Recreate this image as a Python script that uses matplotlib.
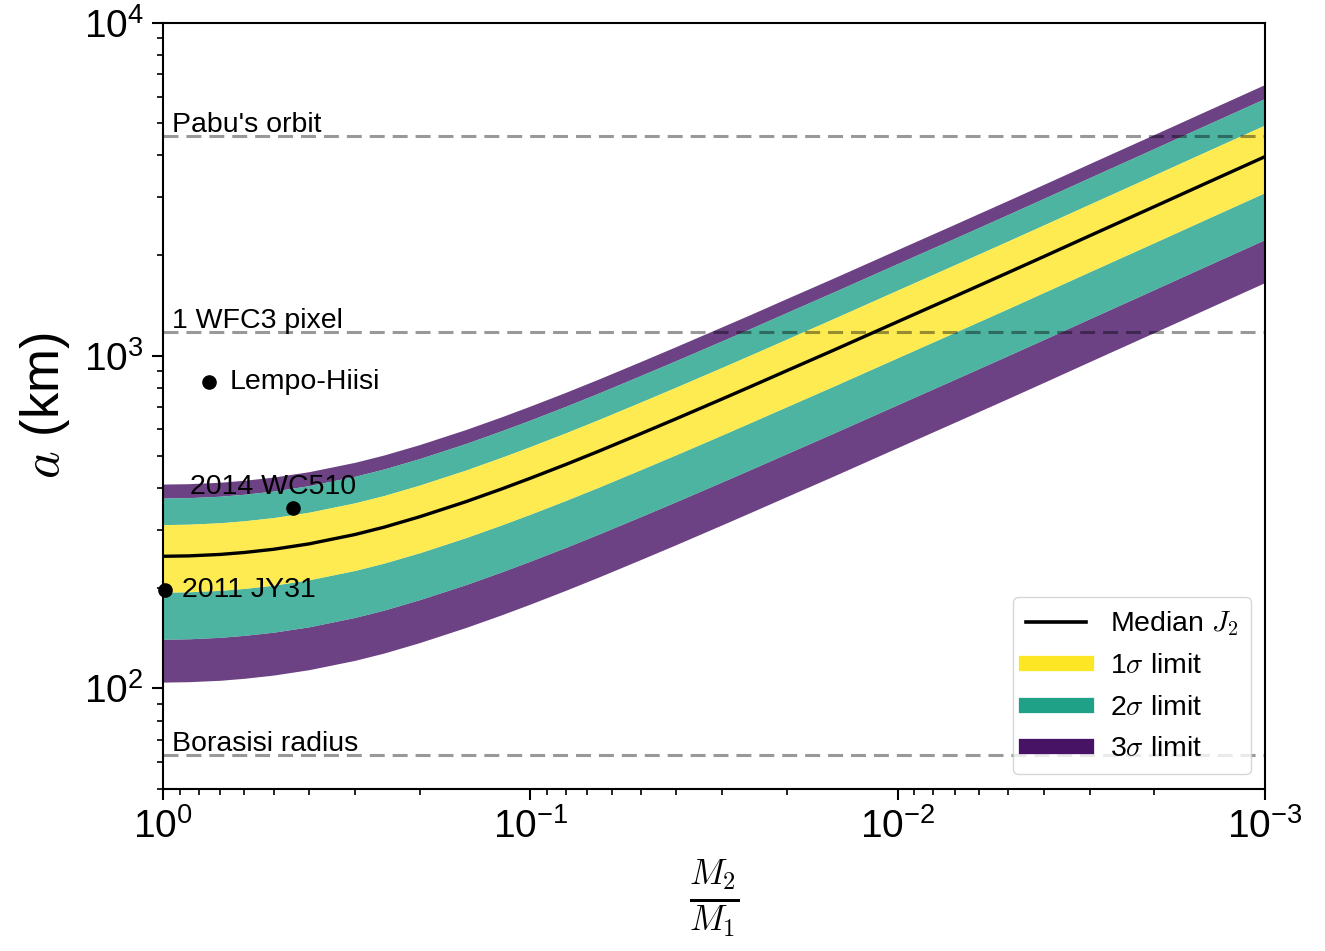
import matplotlib
matplotlib.use("Agg")
import matplotlib.pyplot as plt
from matplotlib.lines import Line2D
import numpy as np

plt.rcParams['font.family'] = ['Liberation Sans', 'DejaVu Sans']
plt.rcParams['mathtext.fontset'] = 'cm'
plt.rcParams['axes.unicode_minus'] = False

# ---- data ----
mass_ratio = [1, 0.85, 0.7, 0.6, 0.5, 0.4, 0.3, 0.25, 0.2, 0.15, 0.12, 0.1, 0.08,
              0.065, 0.05, 0.04, 0.03, 0.025, 0.02, 0.015, 0.01, 0.007, 0.005,
              0.004, 0.003, 0.002, 0.0015, 0.001]
median_a = [249.5, 250.2, 252.7, 256.2, 261.9, 271.9, 290.1, 305.2, 328.0, 363.8,
            397.1, 428.1, 471.0, 516.6, 582.8, 646.7, 741.3, 809.1, 901.6, 1036,
            1264, 1505, 1776, 1984, 2291, 2803, 3236, 3960]
upper_3sig = [411.2, 412.3, 416.4, 422.2, 431.6, 448.1, 478.1, 503.0, 540.5, 599.5,
              654.4, 705.5, 776.2, 851.4, 960.5, 1066, 1222, 1333, 1486, 1707,
              2083, 2480, 2927, 3270, 3776, 4619, 5333, 6526]
upper_2sig = [373.3, 374.3, 378.0, 383.3, 391.8, 406.8, 434.0, 456.6, 490.7, 544.2,
              594.1, 640.4, 704.6, 772.8, 871.9, 967.5, 1109, 1210, 1349, 1550,
              1891, 2251, 2657, 2968, 3427, 4193, 4841, 5924]
upper_1sig = [310.6, 311.5, 314.6, 319.0, 326.1, 338.5, 361.2, 380.0, 408.4, 452.9,
              494.4, 533.0, 586.4, 643.2, 725.6, 805.1, 922.9, 1007, 1122, 1290,
              1574, 1874, 2211, 2470, 2852, 3490, 4029, 4930]
lower_1sig = [194.6, 195.2, 197.1, 199.8, 204.3, 212.1, 226.3, 238.1, 255.8, 283.8,
              309.7, 333.9, 367.4, 402.9, 454.6, 504.4, 578.2, 631.1, 703.2, 808.1,
              985.9, 1174, 1385, 1548, 1787, 2186, 2524, 3089]
lower_2sig = [140.6, 141.0, 142.4, 144.4, 147.6, 153.2, 163.5, 172.0, 184.9, 205.0,
              223.8, 241.3, 265.5, 291.2, 328.5, 364.5, 417.8, 456.0, 508.1, 583.9,
              712.4, 848.2, 1001, 1118, 1291, 1580, 1824, 2232]
lower_3sig = [104.5, 104.8, 105.8, 107.3, 109.7, 113.9, 121.5, 127.8, 137.4, 152.4,
              166.3, 179.3, 197.3, 216.4, 244.1, 270.8, 310.5, 338.9, 377.6, 433.9,
              529.4, 630.3, 743.8, 830.9, 959.5, 1174, 1355, 1658]

ref_names = ["Pabu's orbit", "1 WFC3 pixel", "Borasisi radius"]
ref_values = [4565, 1175, 62.9]

obj_names = ["Lempo-Hiisi", "2014 WC510", "2011 JY31"]
obj_q = [0.748, 0.443, 0.99]
obj_a = [833, 349, 198]

cmap = plt.get_cmap('viridis')
c1 = cmap(1.0)
c2 = cmap(0.57)
c3 = cmap(0.05)

fig = plt.figure(figsize=(13.25, 9.51), dpi=100)
ax = fig.add_axes([0.1230, 0.1707, 0.9547 - 0.1230, 0.9761 - 0.1707])

q = np.array(mass_ratio)
ax.fill_between(q, upper_2sig, upper_3sig, color=c3, alpha=0.8, lw=0)
ax.fill_between(q, lower_3sig, lower_2sig, color=c3, alpha=0.8, lw=0)
ax.fill_between(q, upper_1sig, upper_2sig, color=c2, alpha=0.8, lw=0)
ax.fill_between(q, lower_2sig, lower_1sig, color=c2, alpha=0.8, lw=0)
ax.fill_between(q, lower_1sig, upper_1sig, color=c1, alpha=0.8, lw=0)
ax.plot(q, median_a, color='k', lw=2.4)

for name, val in zip(ref_names, ref_values):
    ax.axhline(val, color='k', alpha=0.4, lw=2.2, ls='--', dashes=(4.9, 2.6))
    ax.text(0.945, val * 1.028, name, fontsize=20.5, va='baseline', ha='left')

ax.plot(obj_q, obj_a, 'o', color='k', ms=9.5, clip_on=False, zorder=5)
ax.text(0.657, obj_a[0], obj_names[0], fontsize=20.5, va='center', ha='left')
ax.text(0.844, 383, obj_names[1], fontsize=20.5, va='baseline', ha='left')
ax.text(0.89, obj_a[2], obj_names[2], fontsize=20.5, va='center', ha='left')

ax.set_xscale('log')
ax.set_yscale('log')
ax.set_xlim(1, 1e-3)
ax.set_ylim(50, 1e4)

ax.set_xlabel(r'$\frac{M_2}{M_1}$', fontsize=36, labelpad=8)
ax.set_ylabel(r'$a$ (km)', fontsize=38, labelpad=8)

ax.tick_params(which='major', direction='out', length=8, width=1.5, labelsize=28, pad=6)
ax.tick_params(which='minor', direction='out', length=4.5, width=1.2)
for s in ax.spines.values():
    s.set_linewidth(1.5)

handles = [Line2D([], [], color='k', lw=2.6),
           Line2D([], [], color=c1, lw=11),
           Line2D([], [], color=c2, lw=11),
           Line2D([], [], color=c3, lw=11)]
labels = [r'Median $J_2$', r'1$\sigma$ limit', r'2$\sigma$ limit', r'3$\sigma$ limit']
ax.legend(handles, labels, loc='lower right', fontsize=20.5, handlelength=2.1,
          handletextpad=0.85, labelspacing=0.53, borderpad=0.45)

fig.savefig('out.png', dpi=100)
